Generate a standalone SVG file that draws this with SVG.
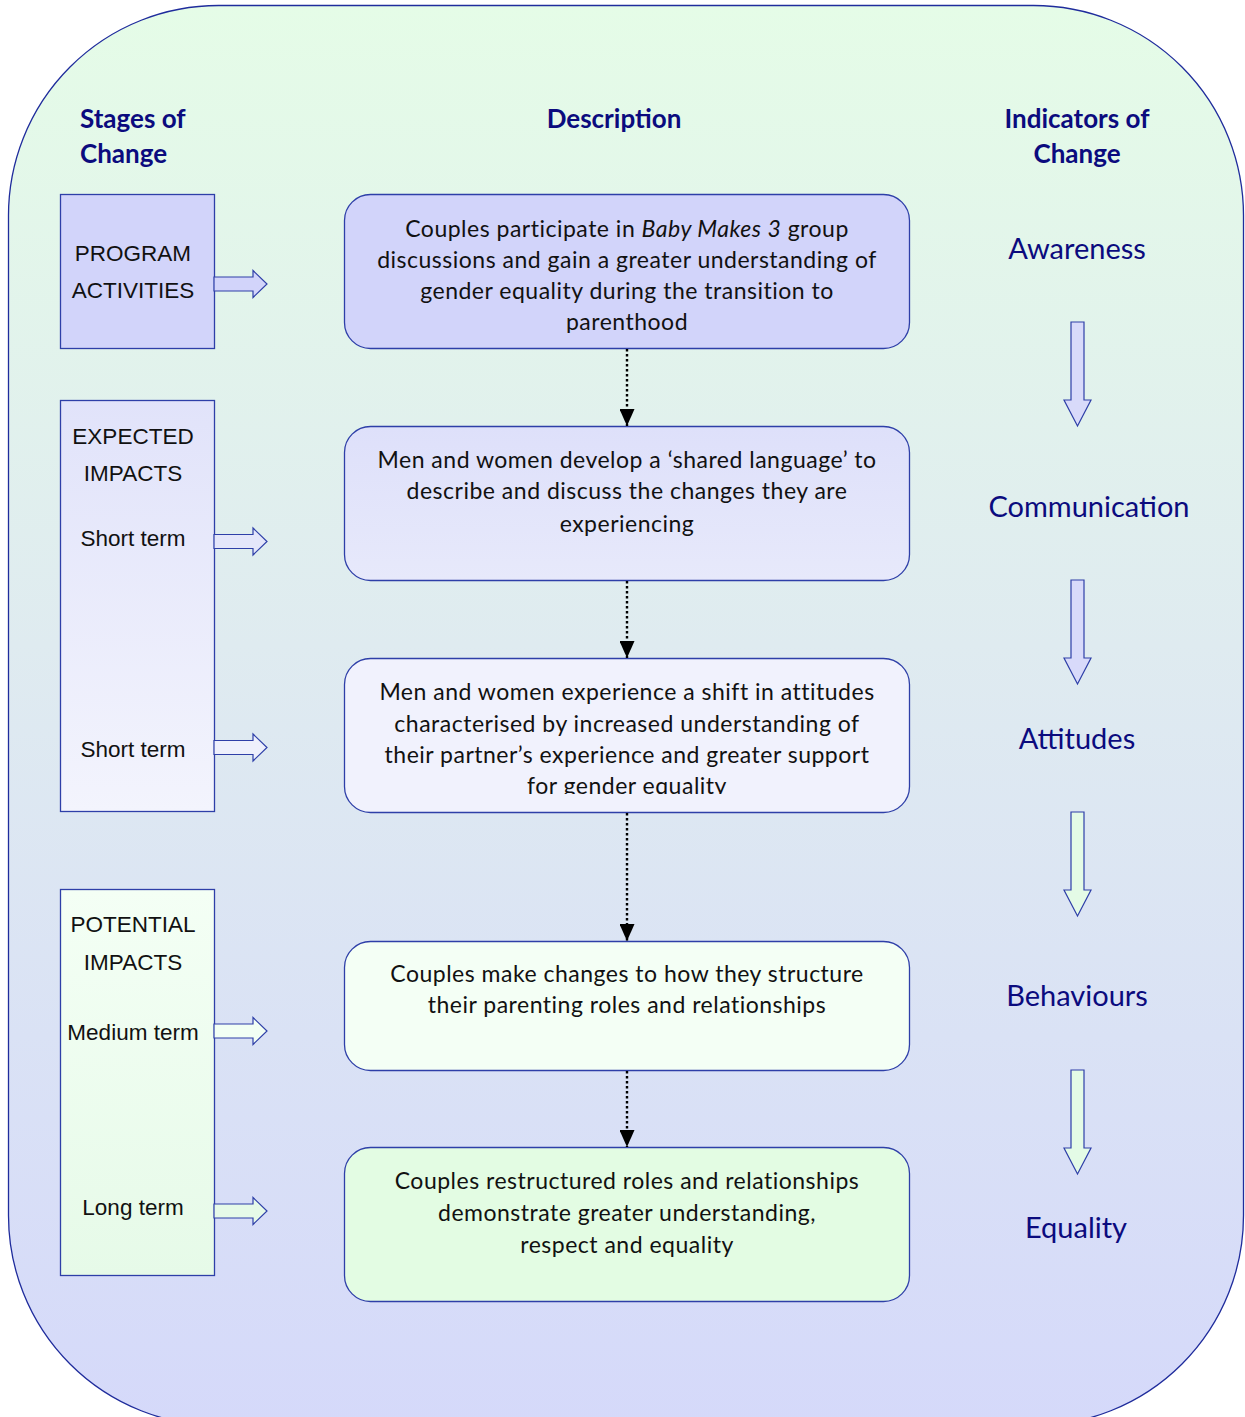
<svg xmlns="http://www.w3.org/2000/svg" width="1245" height="1417" viewBox="0 0 1245 1417">
<defs>
<linearGradient id="bg" x1="0" y1="0" x2="0" y2="1">
<stop offset="0" stop-color="#E5FCE7"/>
<stop offset="0.45" stop-color="#DFEBF0"/>
<stop offset="1" stop-color="#D5D9FA"/>
</linearGradient>
<linearGradient id="gExp" x1="0" y1="0" x2="0" y2="1">
<stop offset="0" stop-color="#E1E3FA"/>
<stop offset="1" stop-color="#F3F4FD"/>
</linearGradient>
<linearGradient id="gPot" x1="0" y1="0" x2="0" y2="1">
<stop offset="0" stop-color="#F4FFF5"/>
<stop offset="1" stop-color="#E6FAE8"/>
</linearGradient>
<linearGradient id="gB2" x1="0" y1="0" x2="0" y2="1">
<stop offset="0" stop-color="#DEE0FA"/>
<stop offset="1" stop-color="#E7E9FB"/>
</linearGradient>
<marker id="ah" viewBox="0 0 17 15" refX="17" refY="7.5" markerWidth="17" markerHeight="15" markerUnits="userSpaceOnUse" orient="auto">
<path d="M0,0 L17,7.5 L0,15 Z" fill="#000"/>
</marker>
<clipPath id="c1"><rect x="344" y="194" width="566" height="139"/></clipPath>
<clipPath id="c3"><rect x="344" y="658" width="566" height="136"/></clipPath>
<path id="rarrow" d="M0,-7 L39,-7 L39,-13.5 L53,0 L39,13.5 L39,7 L0,7 Z"/>
<path id="darrow" d="M-6.5,0 L6.5,0 L6.5,78 L13.5,78 L0,104 L-13.5,78 L-6.5,78 Z"/>
</defs>
<style>
.box{stroke:#2E3FA8;stroke-width:1.3}
.arr{stroke:#2E3FA8;stroke-width:1.2}
.head{font-family:Lato,"Liberation Sans",sans-serif;font-weight:bold;font-size:26px;fill:#0B0B7E}
.ind{font-family:Lato,"Liberation Sans",sans-serif;font-size:29px;fill:#0B0B7E;text-anchor:middle}
.desc{font-family:Lato,"Liberation Sans",sans-serif;font-size:23px;letter-spacing:0.5px;fill:#111;text-anchor:middle}
.lab{font-family:"Liberation Sans",Arial,sans-serif;font-size:22.5px;fill:#111;text-anchor:middle}
.conn{stroke:#000;stroke-width:2.4;stroke-dasharray:2.4 2.6;fill:none}
</style>
<rect id="frame" x="8.5" y="5.5" width="1235" height="1420" rx="210" ry="210" fill="url(#bg)" stroke="#1F2C9C" stroke-width="1.3"/>

<g id="headings">
<text class="head" x="80" y="128">Stages of</text>
<text class="head" x="80" y="163">Change</text>
<text class="head" x="614" y="128" text-anchor="middle">Description</text>
<text class="head" x="1077" y="128" text-anchor="middle">Indicators of</text>
<text class="head" x="1077" y="163" text-anchor="middle">Change</text>
</g>

<g id="stage-program">
<rect class="box" x="60.5" y="194.5" width="154" height="154" fill="#D2D4FA"/>
<text class="lab" x="133" y="261">PROGRAM</text>
<text class="lab" x="133" y="298">ACTIVITIES</text>
</g>
<g id="stage-expected">
<rect class="box" x="60.5" y="400.5" width="154" height="411" fill="url(#gExp)"/>
<text class="lab" x="133" y="444">EXPECTED</text>
<text class="lab" x="133" y="481">IMPACTS</text>
<text class="lab" x="133" y="546">Short term</text>
<text class="lab" x="133" y="757">Short term</text>
</g>
<g id="stage-potential">
<rect class="box" x="60.5" y="889.5" width="154" height="386" fill="url(#gPot)"/>
<text class="lab" x="133" y="932">POTENTIAL</text>
<text class="lab" x="133" y="970">IMPACTS</text>
<text class="lab" x="133" y="1040">Medium term</text>
<text class="lab" x="133" y="1215">Long term</text>
</g>

<g id="block-arrows">
<use href="#rarrow" class="arr" x="214" y="284" fill="#D2D4FA"/>
<use href="#rarrow" class="arr" x="214" y="541.5" fill="#E4E6FA"/>
<use href="#rarrow" class="arr" x="214" y="747.5" fill="#EEF0FC"/>
<use href="#rarrow" class="arr" x="214" y="1031" fill="#F2FFF4"/>
<use href="#rarrow" class="arr" x="214" y="1211" fill="#E6FAE8"/>
<use href="#darrow" class="arr" x="1077.5" y="322" fill="#D8DAFA"/>
<use href="#darrow" class="arr" x="1077.5" y="580" fill="#D8DAFA"/>
<use href="#darrow" class="arr" x="1077.5" y="812" fill="#E4FBE6"/>
<use href="#darrow" class="arr" x="1077.5" y="1070" fill="#E4FBE6"/>
</g>

<g id="desc1">
<rect class="box" x="344.5" y="194.5" width="565" height="154" rx="26" fill="#D2D4FA"/>
<g clip-path="url(#c1)">
<text class="desc" x="627" y="237">Couples participate in <tspan font-style="italic">Baby Makes 3</tspan> group</text>
<text class="desc" x="627" y="268">discussions and gain a greater understanding of</text>
<text class="desc" x="627" y="299">gender equality during the transition to</text>
<text class="desc" x="627" y="330">parenthood</text>
</g>
</g>
<g id="desc2">
<rect class="box" x="344.5" y="426.5" width="565" height="154" rx="26" fill="url(#gB2)"/>
<text class="desc" x="627" y="468">Men and women develop a ‘shared language’ to</text>
<text class="desc" x="627" y="499">describe and discuss the changes they are</text>
<text class="desc" x="627" y="532">experiencing</text>
</g>
<g id="desc3">
<rect class="box" x="344.5" y="658.5" width="565" height="154" rx="26" fill="#F1F2FD"/>
<g clip-path="url(#c3)">
<text class="desc" x="627" y="700">Men and women experience a shift in attitudes</text>
<text class="desc" x="627" y="732">characterised by increased understanding of</text>
<text class="desc" x="627" y="763">their partner’s experience and greater support</text>
<text class="desc" x="627" y="794">for gender equality</text>
</g>
</g>
<g id="desc4">
<rect class="box" x="344.5" y="941.5" width="565" height="129" rx="26" fill="#F4FFF5"/>
<text class="desc" x="627" y="982">Couples make changes to how they structure</text>
<text class="desc" x="627" y="1013">their parenting roles and relationships</text>
</g>
<g id="desc5">
<rect class="box" x="344.5" y="1147.5" width="565" height="154" rx="26" fill="#E3FCE3"/>
<text class="desc" x="627" y="1189">Couples restructured roles and relationships</text>
<text class="desc" x="627" y="1221">demonstrate greater understanding,</text>
<text class="desc" x="627" y="1253">respect and equality</text>
</g>

<g id="indicators">
<text class="ind" x="1077" y="259">Awareness</text>
<text class="ind" x="1089" y="517">Communication</text>
<text class="ind" x="1077" y="749">Attitudes</text>
<text class="ind" x="1077" y="1006">Behaviours</text>
<text class="ind" x="1076" y="1238">Equality</text>
</g>

<g id="connectors">
<line class="conn" x1="627" y1="349" x2="627" y2="426" marker-end="url(#ah)"/>
<line class="conn" x1="627" y1="581" x2="627" y2="658" marker-end="url(#ah)"/>
<line class="conn" x1="627" y1="813" x2="627" y2="941" marker-end="url(#ah)"/>
<line class="conn" x1="627" y1="1071" x2="627" y2="1147" marker-end="url(#ah)"/>
</g>
</svg>
